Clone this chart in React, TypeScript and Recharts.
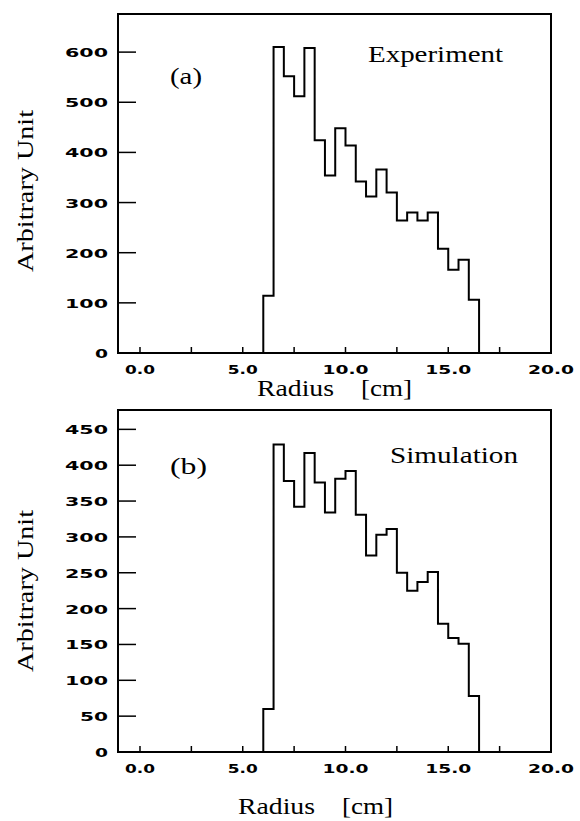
import { Line, LineChart, ReferenceArea, XAxis, YAxis } from 'recharts';

// bin edges of the radial histograms (cm)
const radiusEdges = [6.0, 6.5, 7.0, 7.5, 8.0, 8.5, 9.0, 9.5, 10.0, 10.5, 11.0, 11.5, 12.0, 12.5, 13.0, 13.5, 14.0, 14.5, 15.0, 15.5, 16.0, 16.5];
const experimentCounts = [114, 610, 552, 512, 608, 424, 354, 448, 414, 342, 312, 366, 320, 264, 280, 264, 280, 208, 166, 186, 106];
const simulationCounts = [60, 429, 378, 342, 417, 376, 334, 381, 392, 331, 274, 303, 311, 250, 225, 237, 251, 179, 159, 151, 78];

const radiusTicks = [0, 2.5, 5, 7.5, 10, 12.5, 15, 17.5, 20];
const radiusLabels = ['0.0', '', '5.0', '', '10.0', '', '15.0', '', '20.0'];
const experimentTicks = [0, 100, 200, 300, 400, 500, 600];
const simulationTicks = [0, 50, 100, 150, 200, 250, 300, 350, 400, 450];

const SERIF = '"Liberation Serif", "Times New Roman", serif';
const TICK_FONT = '"DejaVu Sans", sans-serif';

/** histogram outline as a step line: start at 0, one point per bin, back to 0 */
function stepData(counts: number[]) {
  const pts = [{ r: radiusEdges[0], v: 0 }];
  counts.forEach((c, i) => pts.push({ r: radiusEdges[i], v: c }));
  pts.push({ r: radiusEdges[radiusEdges.length - 1], v: 0 });
  return pts;
}

// inward tick marks; labels stretched to look like the old plotter font
function XTick({ x = 0, y = 0, payload }: { x?: number; y?: number; payload?: { value?: number } }) {
  const label = radiusLabels[radiusTicks.indexOf(payload?.value ?? -1)] ?? '';
  return (
    <g>
      <line x1={x} x2={x} y1={y} y2={y - 6} stroke="#000" strokeWidth={1.5} />
      {label && (
        <text x={x} y={y + 21} textAnchor="middle" fontFamily={TICK_FONT} fontWeight={700} fontSize={12}
          textLength={label.length === 3 ? 30 : 46} lengthAdjust="spacingAndGlyphs" fill="#000">
          {label}
        </text>
      )}
    </g>
  );
}

function YTick({ x = 0, y = 0, payload }: { x?: number; y?: number; payload?: { value?: number } }) {
  const label = String(payload?.value ?? '');
  return (
    <g>
      {payload?.value !== 0 && <line x1={x} x2={x + 18} y1={y} y2={y} stroke="#000" strokeWidth={1.5} />}
      <text x={x - 10} y={y + 5} textAnchor="end" fontFamily={TICK_FONT} fontWeight={700} fontSize={12}
        textLength={label.length * 15 - 2} lengthAdjust="spacingAndGlyphs" fill="#000">
        {label}
      </text>
    </g>
  );
}

function Panel({ counts, yMax, yTicks, top, height, tag, title, tagY, titleX, titleW, titleY, radiusX, radiusY }: {
  counts: number[]; yMax: number; yTicks: number[]; top: number; height: number;
  tag: string; title: string; tagY: number; titleX: number; titleW: number; titleY: number;
  radiusX: number; radiusY: number;
}) {
  const data = stepData(counts);
  const plotTop = top === 0 ? 14 : 10;
  return (
    <div style={{ position: 'absolute', left: 0, top, width: 580, height }}>
      <LineChart width={580} height={height} data={data}
        margin={{ top: plotTop, right: 29, left: 58, bottom: height - plotTop - (top === 0 ? 339 : 342) - 40 }}>
        <XAxis dataKey="r" type="number" domain={[-1.07, 20]} ticks={radiusTicks} interval={0} allowDataOverflow
          height={40} tickSize={0} tickMargin={0} tick={<XTick />} axisLine={{ stroke: '#000', strokeWidth: 2 }} />
        <YAxis type="number" domain={[0, yMax]} ticks={yTicks} interval={0} allowDataOverflow width={60}
          tickSize={0} tickMargin={0} tick={<YTick />} axisLine={{ stroke: '#000', strokeWidth: 2 }} />
        <ReferenceArea x1={-1.07} x2={20} y1={0} y2={yMax} fill="none" stroke="#000" strokeWidth={2} />
        <Line type="stepAfter" dataKey="v" stroke="#000" strokeWidth={2} dot={false} isAnimationActive={false} />
        <text x={170} y={tagY} fontFamily={SERIF} fontSize={24} textLength={tag === '(a)' ? 32 : 37}
          lengthAdjust="spacingAndGlyphs" fill="#000">{tag}</text>
        <text x={titleX} y={titleY} fontFamily={SERIF} fontSize={24} textLength={titleW}
          lengthAdjust="spacingAndGlyphs" fill="#000">{title}</text>
        <text x={radiusX} y={radiusY} fontFamily={SERIF} fontSize={24} textLength={77}
          lengthAdjust="spacingAndGlyphs" fill="#000">Radius</text>
        <text x={radiusX + 104} y={radiusY} fontFamily={SERIF} fontSize={24} textLength={51}
          lengthAdjust="spacingAndGlyphs" fill="#000">[cm]</text>
        <text transform={`translate(33,191) rotate(-90)`} textAnchor="middle" fontFamily={SERIF} fontSize={24}
          textLength={162} lengthAdjust="spacingAndGlyphs" fill="#000">Arbitrary Unit</text>
      </LineChart>
    </div>
  );
}

export default function App() {
  return (
    <div style={{ position: 'absolute', left: 0, top: 0, width: 580, height: 821, background: '#fff' }}>
      <Panel counts={experimentCounts} yMax={676} yTicks={experimentTicks} top={0} height={410}
        tag="(a)" title="Experiment" tagY={84} titleX={368} titleW={135} titleY={62} radiusX={257} radiusY={396} />
      <Panel counts={simulationCounts} yMax={477} yTicks={simulationTicks} top={400} height={421}
        tag="(b)" title="Simulation" tagY={74} titleX={390} titleW={128} titleY={63} radiusX={238} radiusY={414} />
    </div>
  );
}
